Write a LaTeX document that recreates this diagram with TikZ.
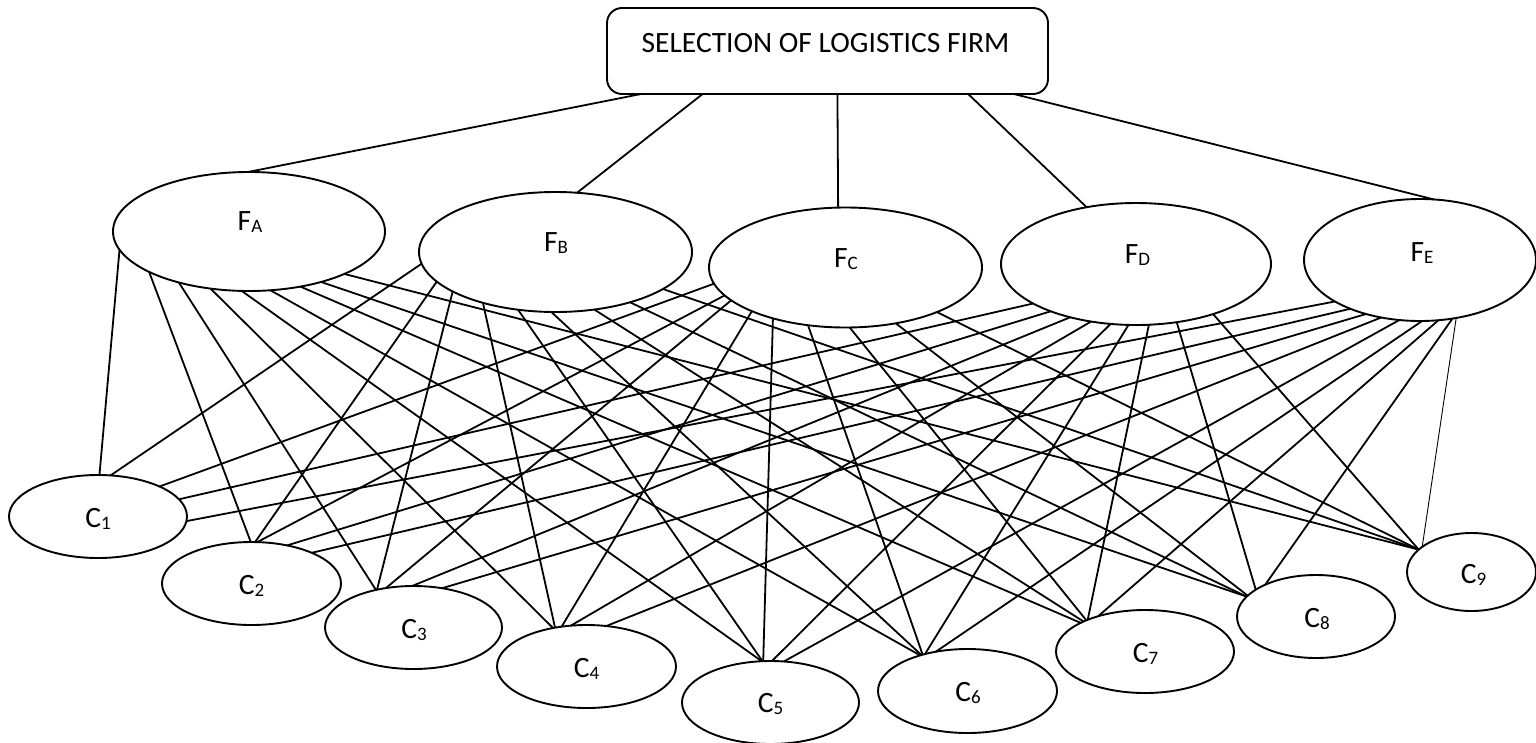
\documentclass[tikz,border=0pt]{standalone}
\usepackage{fontspec}
\setmainfont{Carlito}
\usetikzlibrary{shapes.geometric}
\newcommand{\lowsub}[1]{\raisebox{-2.5pt}{\fontsize{19}{20}\selectfont #1}}
\tikzset{
  oval/.style={draw, ellipse, line width=1.9pt, inner sep=0pt, outer sep=0pt},
  lbl/.style={anchor=base, inner sep=0pt, font=\fontsize{29.5}{34}\selectfont},
  link/.style={line width=1.8pt},
  thinlink/.style={line width=0.9pt},
  topbox/.style={draw, rectangle, rounded corners=15pt, line width=1.9pt, inner sep=0pt, outer sep=0pt}
}
\begin{document}
\begin{tikzpicture}[x=1pt,y=-1pt]
\useasboundingbox (0,0) rectangle (1536,742);
% top box
\node[topbox, minimum width=441pt, minimum height=86pt] (top) at (827.5,51) {};
\node[lbl] (toptext) at (825.5,52) {SELECTION OF LOGISTICS FIRM};
% firms
\node[oval, minimum width=272pt, minimum height=119pt] (fa) at (249,231.5) {};
\node[oval, minimum width=273pt, minimum height=120pt] (fb) at (555.5,252) {};
\node[oval, minimum width=273pt, minimum height=120pt] (fc) at (845.5,267.5) {};
\node[oval, minimum width=270pt, minimum height=122pt] (fd) at (1136,264) {};
\node[oval, minimum width=232pt, minimum height=122pt] (fe) at (1420,260) {};
\node[lbl] (fat) at (250,230) {F\lowsub{A}};
\node[lbl] (fbt) at (556,251) {F\lowsub{B}};
\node[lbl] (fct) at (846,267) {F\lowsub{C}};
\node[lbl] (fdt) at (1137.5,263) {F\lowsub{D}};
\node[lbl] (fet) at (1422,261) {F\lowsub{E}};
% criteria
\node[oval, minimum width=178pt, minimum height=83pt] (c1) at (98,516.5) {};
\node[oval, minimum width=179pt, minimum height=83pt] (c2) at (251.5,583.5) {};
\node[oval, minimum width=177pt, minimum height=83pt] (c3) at (413.5,627.5) {};
\node[oval, minimum width=179pt, minimum height=83pt] (c4) at (586.5,666.5) {};
\node[oval, minimum width=177pt, minimum height=83pt] (c5) at (770.5,702.5) {};
\node[oval, minimum width=179pt, minimum height=84pt] (c6) at (967.5,691) {};
\node[oval, minimum width=178pt, minimum height=83pt] (c7) at (1145,651.5) {};
\node[oval, minimum width=158pt, minimum height=83pt] (c8) at (1316,616.5) {};
\node[oval, minimum width=129pt, minimum height=78pt] (c9) at (1471.5,572) {};
\node[lbl] (c1t) at (98,527) {C\lowsub{1}};
\node[lbl] (c2t) at (251.5,594) {C\lowsub{2}};
\node[lbl] (c3t) at (414,638) {C\lowsub{3}};
\node[lbl] (c4t) at (586.5,677) {C\lowsub{4}};
\node[lbl] (c5t) at (770.5,712) {C\lowsub{5}};
\node[lbl] (c6t) at (968,701) {C\lowsub{6}};
\node[lbl] (c7t) at (1145.5,662) {C\lowsub{7}};
\node[lbl] (c8t) at (1317,627) {C\lowsub{8}};
\node[lbl] (c9t) at (1473.5,583) {C\lowsub{9}};
% top links
\draw[link] (top.193.3) -- (fa.91.9);
\draw[link] (top.199.3) -- (fb.70.3);
\draw[link] (top.283.7) -- (fc.97.1);
\draw[link] (top.343.4) -- (fd.131.3);
\draw[link] (top.347.3) -- (fe.77.1);
% firm-criterion links
\foreach \f/\a/\c/\b in {
  fa/188/c1/88.7, fa/202.1/c2/91.9, fa/216.7/c3/135.7, fa/236.8/c4/131.1, fa/263.6/c5/102,
  fa/290.4/c6/143, fa/313.1/c7/156.2, fa/325.9/c8/164.5, fa/336.6/c9/157.6,
  fb/185.8/c1/73.1, fb/194/c2/85.5, fb/201.7/c3/134.2, fb/215/c4/129.4, fb/237.1/c5/101,
  fb/266.6/c6/142, fb/304.7/c7/154.1, fb/326.5/c8/164, fb/341.5/c9/157.6,
  fc/187.9/c1/26.9, fc/193.3/c2/82.8, fc/196.9/c3/125.1, fc/205/c4/122.9, fc/215.8/c5/100,
  fc/237.5/c6/141, fc/274.3/c7/152.3, fc/312.2/c8/163.5, fc/334.3/c9/157.6,
  fd/201.8/c1/12, fd/209.3/c2/47.3, fd/219.6/c3/92, fd/232.3/c4/111.5, fd/247.2/c5/88,
  fd/263.7/c6/139.5, fd/282.2/c7/151.6, fd/305.9/c8/156.9, fd/327.5/c9/157.6,
  fe/206.6/c1/357, fe/215.2/c2/27.8, fe/225/c3/54.2, fe/236.5/c4/64.8, fe/251.3/c5/72.4,
  fe/272.6/c6/129.4, fe/287.6/c7/143.5, fe/299.1/c8/148.5}
  \draw[link] (\f.\a) -- (\c.\b);
\draw[thinlink] (fe.302.4) -- (c9.153.2);
\end{tikzpicture}
\end{document}
